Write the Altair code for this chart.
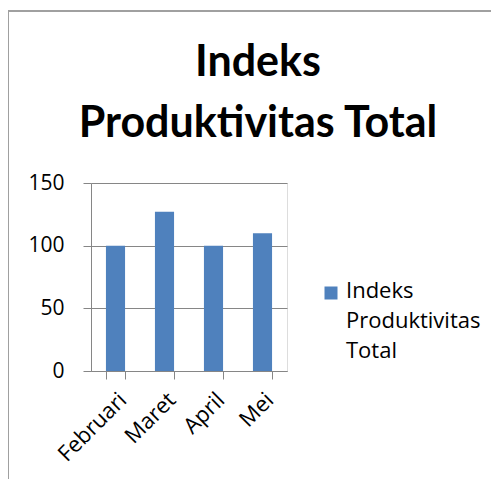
import altair as alt
import pandas as pd

months = ["Februari", "Maret", "April", "Mei"]
values = [100, 127, 100, 110]
series = ["Indeks Produktivitas Total"] * 4
legend_lines = ["Indeks", "Produktivitas", "Total"]
y_ticks = [0, 50, 100, 150]

df = pd.DataFrame({"Bulan": months, "Nilai": values, "Seri": series})

FONT = "Open Sans"
GRAY = "#868686"

bars = alt.Chart(df).mark_bar(color="#4F81BD").encode(
    x=alt.X("Bulan:N", sort=months, title=None,
            scale=alt.Scale(paddingInner=0.61, paddingOuter=0.305),
            axis=alt.Axis(labelAngle=-45, labelFontSize=22, labelFont=FONT,
                          labelAlign="right", labelBaseline="top",
                          labelColor="#000000", tickBand="extent", tickSize=8,
                          tickColor=GRAY, domainColor=GRAY, labelPadding=10,
                          grid=False)),
    y=alt.Y("Nilai:Q", title=None,
            scale=alt.Scale(domain=[0, 150], nice=False),
            axis=alt.Axis(values=y_ticks, labelFontSize=21, labelFont=FONT,
                          labelColor="#000000", tickSize=8, tickColor=GRAY,
                          domainColor=GRAY, gridColor=GRAY, labelPadding=19)),
    color=alt.Color("Seri:N", scale=alt.Scale(range=["#4F81BD"]),
                    legend=alt.Legend(orient="none", legendX=228, legendY=98,
                                      title=legend_lines, titleOrient="right",
                                      titleAnchor="start", titleBaseline="top",
                                      titleFont=FONT, titleFontSize=22,
                                      titleFontWeight="normal", titleColor="#000000",
                                      titleLineHeight=30, titlePadding=3,
                                      symbolType="square", symbolSize=169,
                                      symbolStrokeWidth=0, labelFont=FONT,
                                      labelFontSize=24, labelOffset=0,
                                      labelExpr="' '", padding=0)),
)

border_data = alt.Data(values=[{}])
left_border = alt.Chart(border_data).mark_rule(color="#A0A0A0", strokeWidth=2).encode(
    x=alt.value(-83), y=alt.value(-172), y2=alt.value(300))
top_border = alt.Chart(border_data).mark_rule(color="#A0A0A0", strokeWidth=2).encode(
    x=alt.value(-83), x2=alt.value(412), y=alt.value(-172))

chart = alt.layer(bars, left_border, top_border).properties(
    width=196, height=188,
    title=alt.Title(["Indeks", "Produktivitas Total"], fontSize=43, font="Lato",
                    fontWeight="bold", anchor="middle", dx=69, offset=0, dy=170,
                    lineHeight=61, baseline="alphabetic", color="#000000"),
    autosize=alt.AutoSizeParams(type="none"),
    padding={"left": 83, "top": 175, "right": 204, "bottom": 108},
).configure_view(stroke=None).configure(background="white")

chart.save("out.html", embed_options={"renderer": "svg", "actions": False})
